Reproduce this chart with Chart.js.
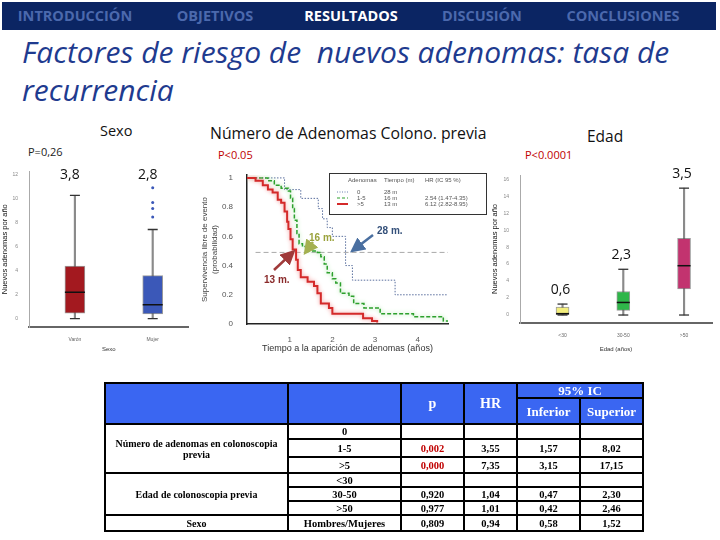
<!DOCTYPE html>
<html>
<head>
<meta charset="utf-8">
<script src="https://cdn.jsdelivr.net/npm/chart.js@4.4.1/dist/chart.umd.min.js"></script>
<style>
body{margin:0;width:720px;height:540px;position:relative;background:#fff;overflow:hidden;font-family:"Open Sans",sans-serif}
.abs{position:absolute;white-space:nowrap}
#nav{left:2px;top:2px;width:714px;height:28px;background:#0b2563}
#nav span{position:absolute;top:4px;font-weight:700;font-size:14.5px;line-height:20px;color:#4b69ad;transform:translateX(-50%)}
#nav span.on{color:#fff}
#title{left:22px;top:33px;font-style:italic;font-size:30px;line-height:38px;color:#1f3b8f}
.sec{font-size:14.5px;line-height:18px;color:#111}
.pv{font-size:11px;line-height:14px;color:#222}
.red{color:#c00000}
canvas{position:absolute}
#tbl{position:absolute;left:104px;top:382px;border-collapse:collapse;font-family:"Liberation Serif",serif;font-weight:700;font-size:10.5px;text-align:center;color:#000;table-layout:fixed}
#tbl td{border:2px solid #000;padding:0;line-height:11px}
#tbl td.h{background:#3a66f2;color:#fff;font-size:14px}
#tbl td.hs{font-size:13px}
#tbl td.g{font-size:10px}
#tbl .r{color:#c00000}
svg{position:absolute;left:0;top:0}
</style>
</head>
<body>
<div id="nav" class="abs">
  <span style="left:73px">INTRODUCCIÓN</span>
  <span style="left:213px">OBJETIVOS</span>
  <span style="left:349px" class="on">RESULTADOS</span>
  <span style="left:480px">DISCUSIÓN</span>
  <span style="left:621px">CONCLUSIONES</span>
</div>
<div id="title" class="abs">Factores de riesgo de&nbsp; nuevos adenomas: tasa de<br>recurrencia</div>

<div class="abs sec" style="left:100px;top:122px">Sexo</div>
<div class="abs sec" style="left:210px;top:124px;font-size:15.8px">Número de Adenomas Colono. previa</div>
<div class="abs sec" style="left:587px;top:127px;font-size:15.5px">Edad</div>
<div class="abs pv" style="left:28px;top:145px">P=0,26</div>
<div class="abs pv red" style="left:218px;top:148px">P&lt;0.05</div>
<div class="abs pv red" style="left:525px;top:148px">P&lt;0.0001</div>

<canvas id="sexChart" width="200" height="195" style="left:0;top:160px"></canvas>
<canvas id="kmChart" width="300" height="195" style="left:200px;top:160px"></canvas>
<canvas id="ageChart" width="230" height="195" style="left:490px;top:160px"></canvas>

<svg width="720" height="540" viewBox="0 0 720 540">
  <defs>
    <marker id="ab" markerWidth="6" markerHeight="6" refX="3" refY="3" orient="auto"><path d="M0,0 L6,3 L0,6 z" fill="#4a6fa0"/></marker>
    <marker id="ag" markerWidth="6" markerHeight="6" refX="3" refY="3" orient="auto"><path d="M0,0 L6,3 L0,6 z" fill="#a4b050"/></marker>
    <marker id="ar" markerWidth="6" markerHeight="6" refX="3" refY="3" orient="auto"><path d="M0,0 L6,3 L0,6 z" fill="#a03a3a"/></marker>
  </defs>
  <rect x="329.5" y="173.5" width="157" height="41" fill="#fff" stroke="#333" stroke-width="1"/>
  <g font-family="Liberation Sans, sans-serif" font-size="6" fill="#555">
    <text x="348" y="182">Adenomas</text><text x="384" y="182">Tiempo (m)</text><text x="425" y="182">HR (IC 95 %)</text>
    <text x="357" y="194">0</text><text x="384" y="194">28 m</text>
    <text x="357" y="200">1-5</text><text x="384" y="200">16 m</text><text x="425" y="200">2.54 (1.47-4.35)</text>
    <text x="357" y="206">&gt;5</text><text x="384" y="206">13 m</text><text x="425" y="206">6.12 (2.82-8.95)</text>
  </g>
  <line x1="337" y1="192" x2="348" y2="192" stroke="#6a7fb0" stroke-width="1" stroke-dasharray="1,1.5"/>
  <line x1="337" y1="198" x2="348" y2="198" stroke="#2da02d" stroke-width="1.2" stroke-dasharray="3,2"/>
  <line x1="337" y1="204" x2="348" y2="204" stroke="#d42a2a" stroke-width="2"/>
  <line x1="373" y1="235" x2="356" y2="248" stroke="#4a6fa0" stroke-width="2.5" marker-end="url(#ab)"/>
  <line x1="313" y1="242" x2="308" y2="249" stroke="#a4b050" stroke-width="2.5" marker-end="url(#ag)"/>
  <line x1="274" y1="270" x2="290" y2="255" stroke="#a03a3a" stroke-width="2.5" marker-end="url(#ar)"/>
  <g font-family="Liberation Sans, sans-serif" font-size="10" font-weight="700">
    <text x="377" y="234" fill="#34507a">28 m.</text>
    <text x="309" y="241" fill="#9aa23c">16 m.</text>
    <text x="264" y="283" fill="#8a2a2a">13 m.</text>
  </g>
</svg>

<table id="tbl">
  <colgroup><col style="width:183px"><col style="width:113px"><col style="width:63px"><col style="width:53px"><col style="width:63px"><col style="width:63px"></colgroup>
  <tr style="height:15px"><td class="h" rowspan="2"></td><td class="h" rowspan="2"></td><td class="h" rowspan="2">p</td><td class="h" rowspan="2">HR</td><td class="h hs" colspan="2">95% IC</td></tr>
  <tr style="height:26px"><td class="h hs">Inferior</td><td class="h hs">Superior</td></tr>
  <tr style="height:15px"><td class="g" rowspan="3">Número de adenomas en colonoscopia<br>previa</td><td>0</td><td></td><td></td><td></td><td></td></tr>
  <tr style="height:18px"><td>1-5</td><td class="r">0,002</td><td>3,55</td><td>1,57</td><td>8,02</td></tr>
  <tr style="height:16px"><td>&gt;5</td><td class="r">0,000</td><td>7,35</td><td>3,15</td><td>17,15</td></tr>
  <tr style="height:14px"><td class="g" rowspan="3">Edad de colonoscopia previa</td><td>&lt;30</td><td></td><td></td><td></td><td></td></tr>
  <tr style="height:14px"><td>30-50</td><td>0,920</td><td>1,04</td><td>0,47</td><td>2,30</td></tr>
  <tr style="height:14px"><td>&gt;50</td><td>0,977</td><td>1,01</td><td>0,42</td><td>2,46</td></tr>
  <tr style="height:16px"><td class="g">Sexo</td><td>Hombres/Mujeres</td><td>0,809</td><td>0,94</td><td>0,58</td><td>1,52</td></tr>
</table>

<script>
// box plot data: sexo
const sexCategories = ['Varón', 'Mujer'];
const sexMin = [0, 0];
const sexQ1 = [0.45, 0.4];
const sexMedian = [2.2, 1.15];
const sexQ3 = [4.4, 3.6];
const sexMax = [10.3, 7.45];
const sexOutliers = [[], [8.5, 9.2, 9.7, 10.95]];
const sexMeans = ['3,8', '2,8'];
const sexYTicks = [0, 2, 4, 6, 8, 10, 12];
const sexColors = ['#a3191f', '#3b58b8'];

// box plot data: edad
const ageCategories = ['<30', '30-50', '>50'];
const ageMin = [0, 0, 0];
const ageQ1 = [0.04, 0.55, 3.08];
const ageMedian = [0.16, 1.48, 5.81];
const ageQ3 = [0.94, 2.77, 9.05];
const ageMax = [1.29, 5.39, 14.95];
const ageMeans = ['0,6', '2,3', '3,5'];
const ageYTicks = [0, 2, 4, 6, 8, 10, 12, 14, 16];
const ageColors = ['#f3ee7c', '#2fb64a', '#c2336f'];

// Kaplan-Meier curves (años, probabilidad)
const kmRedT = [0, 0.2, 0.37, 0.49, 0.6, 0.72, 0.8, 0.88, 0.94, 0.97, 1.02, 1.07, 1.15, 1.19, 1.26, 1.42, 1.57, 1.65, 1.73, 1.92, 2.0, 2.58, 2.72, 2.93, 3.05];
const kmRedS = [1, 0.98, 0.95, 0.92, 0.9, 0.85, 0.83, 0.77, 0.7, 0.65, 0.58, 0.51, 0.44, 0.37, 0.32, 0.29, 0.26, 0.21, 0.14, 0.11, 0.07, 0.07, 0.04, 0.02, 0.01];
const kmGreenT = [0, 0.49, 0.64, 0.8, 0.97, 1.02, 1.07, 1.11, 1.17, 1.22, 1.3, 1.42, 1.65, 1.73, 1.81, 1.88, 2.0, 2.08, 2.19, 2.39, 2.5, 2.74, 3.12, 3.9, 4.6, 4.71];
const kmGreenS = [1, 0.98, 0.95, 0.93, 0.91, 0.86, 0.79, 0.71, 0.62, 0.55, 0.53, 0.5, 0.49, 0.46, 0.41, 0.35, 0.31, 0.28, 0.21, 0.19, 0.14, 0.11, 0.07, 0.05, 0.02, 0.02];
const kmBlueT = [0, 0.88, 1.26, 1.67, 1.77, 1.88, 2.0, 2.31, 2.47, 3.47, 4.71];
const kmBlueS = [1, 0.92, 0.86, 0.79, 0.72, 0.66, 0.6, 0.4, 0.3, 0.2, 0.2];
const kmHalfT = [0.2, 4.72];
const kmHalfS = [0.49, 0.49];
const kmXTicks = [1, 2, 3, 4];
const kmYTicks = [0, 0.2, 0.4, 0.6, 0.8, 1];

const meanLabels = {
  id: 'meanLabels',
  afterDatasetsDraw(chart, args, opts) {
    if (!opts.labels) return;
    const { ctx, scales: { x, y } } = chart;
    ctx.save();
    ctx.font = '14px "Open Sans"';
    ctx.fillStyle = '#111';
    ctx.textAlign = 'center';
    ctx.textBaseline = 'middle';
    opts.labels.forEach((t, i) => {
      const py = opts.fixedY !== undefined ? opts.fixedY : y.getPixelForValue(opts.tops[i]) - opts.gap;
      ctx.fillText(t, x.getPixelForValue(i) + (opts.dx || 0), py);
    });
    ctx.restore();
  }
};

const halo = {
  id: 'halo',
  beforeDatasetDraw(chart, args) {
    const c = chart.data.datasets[args.index].halo;
    if (c) { chart.ctx.save(); chart.ctx.shadowColor = c; chart.ctx.shadowBlur = 4; }
  },
  afterDatasetDraw(chart, args) {
    if (chart.data.datasets[args.index].halo) chart.ctx.restore();
  }
};

function boxDatasets(cats, mins, q1, med, q3, maxs, colors, boxW, outliers, outColor) {
  return [
    { type: 'scatter', data: outliers.flatMap((o, i) => o.map(v => ({ x: i, y: v }))),
      pointStyle: 'circle', radius: 1.5, backgroundColor: outColor, borderWidth: 0, order: 0 },
    { type: 'scatter', data: cats.map((c, i) => ({ x: i, y: med[i] })),
      pointStyle: 'line', radius: boxW / 2, borderColor: '#111', borderWidth: 1.5, order: 1 },
    { type: 'scatter', data: cats.flatMap((c, i) => [{ x: i, y: maxs[i] }, { x: i, y: mins[i] }]),
      pointStyle: 'line', radius: 5, borderColor: '#333', borderWidth: 1.3, order: 2 },
    { type: 'bar', data: cats.map((c, i) => ({ x: i, y: [q1[i], q3[i]] })),
      backgroundColor: colors, borderColor: 'rgba(90,90,90,0.6)', borderWidth: 1, borderSkipped: false,
      barThickness: boxW, grouped: false, order: 3 },
    { type: 'bar', data: cats.map((c, i) => ({ x: i, y: [mins[i], maxs[i]] })),
      backgroundColor: '#8a8a8a', barThickness: 1.5, grouped: false, order: 4 }
  ];
}

function boxOptions(cats, xmin, xmax, ymin, ymax, yTicks, yWidth, xHeight, yTitle, xTitle, pad) {
  return {
    responsive: false, animation: false, events: [],
    layout: { padding: pad },
    plugins: { legend: { display: false }, tooltip: { enabled: false } },
    scales: {
      x: {
        type: 'linear', min: xmin, max: xmax, offset: false,
        afterBuildTicks: ax => { ax.ticks = cats.map((c, i) => ({ value: i })); },
        afterFit: s => { s.height = xHeight; },
        ticks: { callback: v => cats[v], font: { size: 5, family: 'Liberation Sans' }, color: '#666', padding: 2 },
        grid: { display: false },
        border: { display: true, color: '#666', width: 2 },
        title: { display: true, text: xTitle, font: { size: 6, family: 'Liberation Sans' }, color: '#333', padding: 2 }
      },
      y: {
        min: ymin, max: ymax,
        afterBuildTicks: ax => { ax.ticks = yTicks.map(v => ({ value: v })); },
        afterFit: s => { s.width = yWidth; },
        ticks: { font: { size: 5, family: 'Liberation Sans' }, color: '#888', padding: 3 },
        grid: { display: false },
        border: { display: true, color: '#aaa', width: 1 },
        title: { display: true, text: yTitle, font: { size: 7.5, family: 'Liberation Sans' }, color: '#111', padding: 0 }
      }
    }
  };
}

const sexOpts = boxOptions(sexCategories, -0.59, 1.46, -0.7, 12.3, sexYTicks, 29, 28,
  'Nuevos adenomas por año', 'Sexo', { top: 10, right: 5, left: 0, bottom: 0 });
sexOpts.plugins.meanLabels = { labels: sexMeans, fixedY: 15, dx: -5 };
new Chart(document.getElementById('sexChart'), {
  type: 'bar',
  data: { datasets: boxDatasets(sexCategories, sexMin, sexQ1, sexMedian, sexQ3, sexMax, sexColors, 20, sexOutliers, '#3b58b8') },
  options: sexOpts,
  plugins: [meanLabels]
});

const ageOpts = boxOptions(ageCategories, -0.7, 2.46, -0.94, 16.5, ageYTicks, 30, 32,
  'Nuevos adenomas por año', 'Edad (años)', { top: 15, right: 2, left: 0, bottom: 0 });
ageOpts.plugins.meanLabels = { labels: ageMeans, tops: ageMax, gap: 14, dx: -2 };
new Chart(document.getElementById('ageChart'), {
  type: 'bar',
  data: { datasets: boxDatasets(ageCategories, ageMin, ageQ1, ageMedian, ageQ3, ageMax, ageColors, 13, [[], [], []], '#555') },
  options: ageOpts,
  plugins: [meanLabels]
});

const toXY = (t, s) => t.map((v, i) => ({ x: v, y: s[i] }));
new Chart(document.getElementById('kmChart'), {
  type: 'line',
  data: {
    datasets: [
      { data: toXY(kmRedT, kmRedS), borderColor: '#d42a2a', borderWidth: 2, stepped: true, pointRadius: 0, halo: '#f29a9a' },
      { data: toXY(kmGreenT, kmGreenS), borderColor: '#2da02d', borderWidth: 1.5, borderDash: [4, 2], stepped: true, pointRadius: 0, halo: '#9fe09a' },
      { data: toXY(kmBlueT, kmBlueS), borderColor: '#5a6f9e', borderWidth: 1, borderDash: [1.5, 1.5], stepped: true, pointRadius: 0 },
      { data: toXY(kmHalfT, kmHalfS), borderColor: '#aaa', borderWidth: 1, borderDash: [5, 3], pointRadius: 0 }
    ]
  },
  options: {
    responsive: false, animation: false, events: [],
    layout: { padding: { top: 15, right: 52, left: 0, bottom: 0 } },
    plugins: { legend: { display: false }, tooltip: { enabled: false } },
    scales: {
      x: {
        type: 'linear', min: 0, max: 4.71,
        afterBuildTicks: ax => { ax.ticks = kmXTicks.map(v => ({ value: v })); },
        afterFit: s => { s.height = 31; },
        ticks: { font: { size: 8, family: 'Liberation Sans' }, color: '#555', padding: 3 },
        grid: { display: false },
        border: { display: true, color: '#222', width: 1.5 },
        title: { display: true, text: 'Tiempo a la aparición de adenomas (años)', font: { size: 9, family: 'Liberation Sans' }, color: '#333', padding: 1 }
      },
      y: {
        min: 0, max: 1.02,
        afterBuildTicks: ax => { ax.ticks = kmYTicks.map(v => ({ value: v })); },
        afterFit: s => { s.width = 47; },
        ticks: { callback: v => String(v), font: { size: 8, family: 'Liberation Sans' }, color: '#555', padding: 6 },
        grid: { display: false },
        border: { display: true, color: '#222', width: 1.5 },
        title: { display: true, text: ['Supervivencia libre de evento', '(probabilidad)'], font: { size: 8, family: 'Liberation Sans' }, color: '#444', padding: 0 }
      }
    }
  },
  plugins: [halo]
});
</script>
</body>
</html>
